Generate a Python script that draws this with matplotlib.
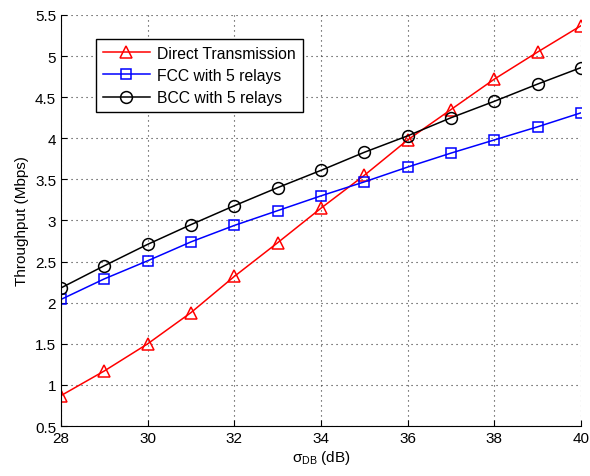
import matplotlib
matplotlib.use("Agg")
import matplotlib.pyplot as plt

plt.rcParams['font.family'] = ['Liberation Sans', 'DejaVu Sans']
plt.rcParams['mathtext.fontset'] = 'custom'
plt.rcParams['mathtext.rm'] = 'Liberation Sans'
plt.rcParams['mathtext.it'] = 'Liberation Sans'

sigma = [28, 29, 30, 31, 32, 33, 34, 35, 36, 37, 38, 39, 40]
direct = [0.87, 1.17, 1.50, 1.88, 2.32, 2.73, 3.15, 3.55, 3.98, 4.35, 4.72, 5.05, 5.37]
fcc = [2.04, 2.29, 2.51, 2.74, 2.94, 3.12, 3.30, 3.47, 3.65, 3.82, 3.98, 4.14, 4.31]
bcc = [2.18, 2.45, 2.71, 2.95, 3.18, 3.40, 3.61, 3.83, 4.03, 4.25, 4.45, 4.66, 4.86]
labels = ["Direct Transmission", "FCC with 5 relays", "BCC with 5 relays"]
xticks = [28, 30, 32, 34, 36, 38, 40]
yticks = [0.5, 1, 1.5, 2, 2.5, 3, 3.5, 4, 4.5, 5, 5.5]

fig = plt.figure(figsize=(5.9, 4.77), dpi=100)
ax = fig.add_axes([0.1034, 0.1048, 0.8814, 0.8617])

ax.plot(sigma, direct, '-^', color='red', lw=1.1, ms=8.5, mfc='none', mew=1.1, label=labels[0])
ax.plot(sigma, fcc, '-s', color='blue', lw=1.1, ms=7, mfc='none', mew=1.1, label=labels[1])
ax.plot(sigma, bcc, '-o', color='black', lw=1.1, ms=8.5, mfc='none', mew=1.1, label=labels[2])

ax.set_xlim(28, 40)
ax.set_ylim(0.5, 5.5)
ax.set_xticks(xticks)
ax.set_yticks(yticks)
ax.set_yticklabels([f"{v:g}" for v in yticks])
ax.tick_params(direction='in', labelsize=11, length=4, width=0.8)
ax.spines['top'].set_visible(False)
ax.spines['right'].set_visible(False)
ax.grid(True, linestyle=(0, (1, 3.5)), color='#333333', lw=0.8)

ax.set_xlabel(r'$\sigma_{\rm DB}$ (dB)', fontsize=11, labelpad=2)
ax.set_ylabel('Throughput (Mbps)', fontsize=11)

leg = ax.legend(loc='upper left', bbox_to_anchor=(0.067, 0.942), borderaxespad=0,
                fontsize=11.3, fancybox=False, framealpha=1, edgecolor='black',
                handlelength=3.0, labelspacing=0.45, borderpad=0.45, handletextpad=0.45)
leg.get_frame().set_linewidth(1.0)

fig.savefig("out.png", dpi=100)
